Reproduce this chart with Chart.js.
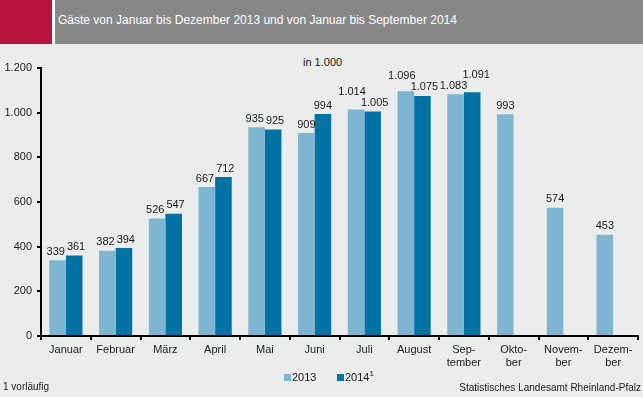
<!DOCTYPE html>
<html><head><meta charset="utf-8">
<script src="https://cdn.jsdelivr.net/npm/chart.js@4"></script>
<style>
body{margin:0;width:643px;height:397px;background:#ebedec;position:relative;overflow:hidden;font-family:"Liberation Sans",Arial,sans-serif;color:#1a1a1a;}
#hdr{position:absolute;left:0;top:0;width:643px;height:44px;background:#878787;}
#red{position:absolute;left:0;top:0;width:52px;height:44px;background:#b8123e;}
#gap{position:absolute;left:52px;top:0;width:3px;height:44px;background:#fff;}
#title{position:absolute;left:58px;top:13px;color:#fff;font-size:12px;white-space:nowrap;}
#unit{position:absolute;left:303px;top:56px;font-size:11px;}
#c{position:absolute;left:0;top:44px;}
.leg{position:absolute;top:371px;font-size:11px;white-space:nowrap;}
.sq{display:inline-block;width:7px;height:7px;margin-right:1px;vertical-align:0px;}
#note{position:absolute;left:3px;top:381px;font-size:10px;}
#src{position:absolute;right:2px;top:382px;font-size:10px;}
</style></head>
<body>
<div id="hdr"></div><div id="red"></div><div id="gap"></div>
<div id="title">Gäste von Januar bis Dezember 2013 und von Januar bis September 2014</div>
<div id="unit">in 1.000</div>
<canvas id="c" width="643" height="330"></canvas>
<div class="leg" style="left:284px"><span class="sq" style="background:#7eb6d2"></span>2013</div>
<div class="leg" style="left:337px"><span class="sq" style="background:#0072a3"></span>2014<sup style="font-size:8px;position:relative;top:-2px;vertical-align:top">1</sup></div>
<div id="note">1 vorläufig</div>
<div id="src">Statistisches Landesamt Rheinland-Pfalz</div>
<script>
const categories = ["Januar","Februar","März","April","Mai","Juni","Juli","August",["Sep-","tember"],["Okto-","ber"],["Novem-","ber"],["Dezem-","ber"]];
const values2013 = [339,382,526,667,935,909,1014,1096,1083,993,574,453];
const values2014 = [361,394,547,712,925,994,1005,1075,1091,null,null,null];
const yTicks = [0,200,400,600,800,1000,1200];

function fmt(v){
  const s = String(Math.round(v));
  return s.replace(/\B(?=(\d{3})+(?!\d))/g, ".");
}

const labelPlugin = {
  id:'labels',
  afterDatasetsDraw(chart){
    const ctx = chart.ctx;
    ctx.save();
    ctx.font = '11px "Liberation Sans", Arial, sans-serif';
    ctx.fillStyle = '#1a1a1a';
    ctx.textAlign = 'center';
    ctx.textBaseline = 'bottom';
    const H = 11;
    const n = chart.data.labels.length;
    for(let i=0;i<n;i++){
      const items=[];
      chart.data.datasets.forEach((ds,di)=>{
        const v = ds.data[i];
        if(v==null) return;
        const el = chart.getDatasetMeta(di).data[i];
        const t = fmt(v);
        items.push({t, v, x:el.x, y:el.y-3, w:ctx.measureText(t).width});
      });
      if(items.length===2){
        const [a,b]=items;
        if(Math.abs(a.y-b.y)<H){
          const need = a.w/2+b.w/2+2 - (b.x-a.x);
          if(need>0 && need<=5){
            a.x-=need/2; b.x+=need/2;
          } else if(need>5){
            const hi = a.v>=b.v ? a : b, lo = hi===a ? b : a;
            hi.y = Math.min(hi.y, lo.y - H);
            const dir = hi===a ? -1 : 1;
            hi.x += 4*dir; lo.x -= 2*dir;
          }
        }
      }
      items.forEach(it=>ctx.fillText(it.t,it.x,it.y));
    }
    ctx.restore();
  }
};

new Chart(document.getElementById('c'),{
  type:'bar',
  data:{labels:categories,datasets:[
    {label:'2013',data:values2013,backgroundColor:'#7eb6d2',barPercentage:1,categoryPercentage:0.667},
    {label:'2014',data:values2014,backgroundColor:'#0072a3',barPercentage:1,categoryPercentage:0.667}
  ]},
  options:{
    responsive:false,animation:false,devicePixelRatio:1,
    layout:{padding:{top:24,right:5,left:0,bottom:0}},
    plugins:{legend:{display:false},tooltip:{enabled:false}},
    scales:{
      x:{
        grid:{display:true,drawOnChartArea:false,drawTicks:true,tickLength:4,color:'#000',lineWidth:2,offset:true},
        border:{display:true,color:'#000',width:2},
        ticks:{color:'#1a1a1a',font:{size:11,family:'"Liberation Sans", Arial, sans-serif'},padding:3,maxRotation:0,autoSkip:false},
        afterFit(s){s.height=38;}
      },
      y:{
        min:0,max:1200,
        afterBuildTicks(s){s.ticks=yTicks.map(v=>({value:v}));},
        grid:{display:true,drawOnChartArea:false,drawTicks:true,tickLength:4,color:'#000',lineWidth:2},
        border:{display:true,color:'#000',width:2},
        ticks:{color:'#1a1a1a',font:{size:11,family:'"Liberation Sans", Arial, sans-serif'},padding:5,callback:v=>fmt(v)},
        afterFit(s){s.width=41;}
      }
    }
  },
  plugins:[labelPlugin]
});
</script>
</body></html>
